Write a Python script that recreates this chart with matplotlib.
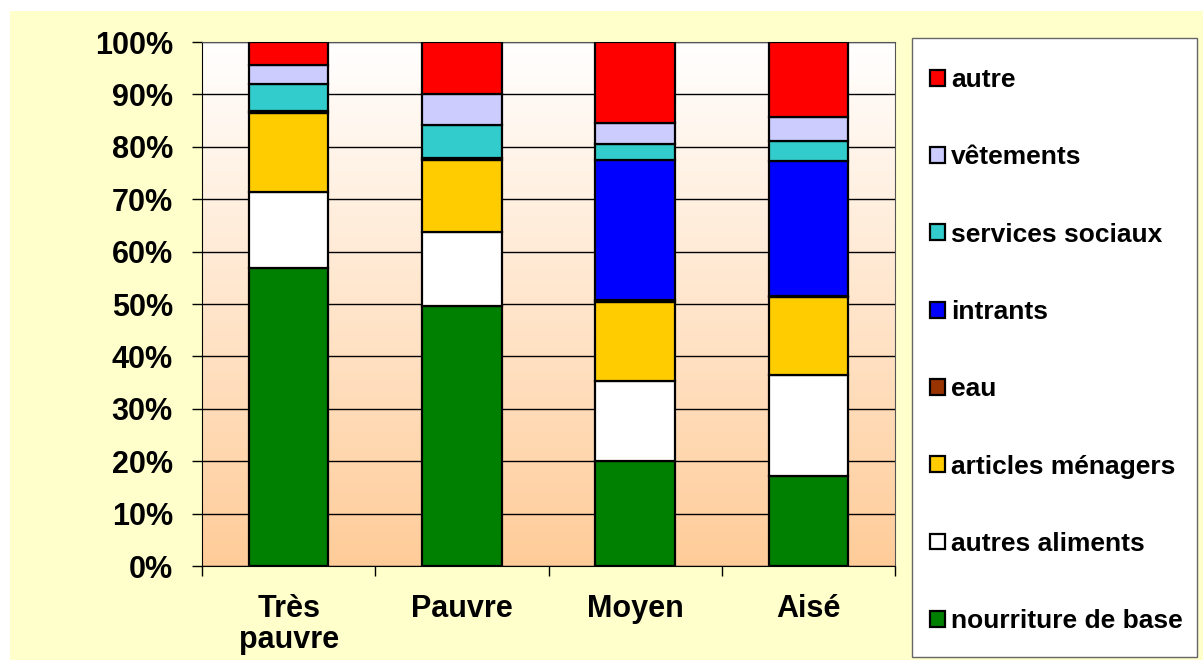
import matplotlib.pyplot as plt
import numpy as np
from matplotlib.patches import Rectangle
from matplotlib.colors import LinearSegmentedColormap

plt.rcParams['font.family'] = ['Liberation Sans', 'DejaVu Sans']
plt.rcParams['font.weight'] = 'bold'

groupes = ['Très\npauvre', 'Pauvre', 'Moyen', 'Aisé']

# parts des dépenses (%), du bas vers le haut de chaque barre
nourriture = [56.9, 49.7, 20.0, 17.2]
autres_aliments = [14.5, 14.0, 15.4, 19.2]
articles = [15.1, 13.8, 15.0, 14.9]
eau = [0.4, 0.4, 0.3, 0.3]
intrants = [0.0, 0.0, 26.8, 25.7]
services = [5.1, 6.3, 3.0, 3.8]
vetements = [3.7, 5.8, 4.0, 4.5]
autre = [4.3, 10.0, 15.5, 14.4]

series = [
    ('nourriture de base', nourriture, '#008000'),
    ('autres aliments', autres_aliments, '#FFFFFF'),
    ('articles ménagers', articles, '#FFCC00'),
    ('eau', eau, '#993300'),
    ('intrants', intrants, '#0000FF'),
    ('services sociaux', services, '#33CCCC'),
    ('vêtements', vetements, '#CCCCFF'),
    ('autre', autre, '#FF0000'),
]

W, H = 1203, 660
fig = plt.figure(figsize=(W / 100, H / 100), dpi=100)
fig.patches.append(Rectangle((10 / W, 0), 1, 1 - 11 / H, transform=fig.transFigure,
                             facecolor='#FFFFCC', edgecolor='none', zorder=-10))

ax = fig.add_axes([202 / W, 94 / H, 693 / W, 524 / H])

# fond dégradé blanc -> pêche
cmap = LinearSegmentedColormap.from_list('peche', ['#FFFFFF', '#FFCC99'])
grad = np.linspace(0, 1, 256).reshape(-1, 1)
ax.imshow(grad, cmap=cmap, aspect='auto', extent=[0, 1, 0, 1],
          transform=ax.transAxes, zorder=0)

x = np.arange(len(groupes))
bas = np.zeros(len(groupes))
handles = []
for nom, vals, couleur in series:
    b = ax.bar(x, vals, 0.46, bottom=bas, color=couleur, edgecolor='black',
               linewidth=1.6, label=nom, zorder=3)
    handles.append(b)
    bas += np.array(vals)

ax.set_xlim(-0.5, 3.5)
ax.set_ylim(0, 100)
ax.set_yticks(np.arange(0, 101, 10))
ax.set_yticklabels([f'{v}%' for v in range(0, 101, 10)])
ax.yaxis.grid(True, color='black', linewidth=1, zorder=1)
ax.set_axisbelow(True)

ax.set_xticks([-0.5, 0.5, 1.5, 2.5, 3.5])
ax.set_xticklabels([])
ax.set_xticks(x, minor=True)
ax.set_xticklabels(groupes, minor=True, fontsize=22, fontweight='bold', linespacing=1.05)
ax.tick_params(axis='x', which='major', direction='out', length=7, width=1)
ax.tick_params(axis='x', which='minor', length=0, pad=20)
ax.tick_params(axis='y', direction='out', length=7, width=1, labelsize=22, pad=14)

for s in ['top', 'right']:
    ax.spines[s].set_color('#555555')
for s in ['left', 'bottom']:
    ax.spines[s].set_color('black')

# cadre de la légende
fig.patches.append(Rectangle((912 / W, 1 - 657 / H), (1197 - 912) / W, (657 - 38) / H,
                             transform=fig.transFigure, facecolor='white',
                             edgecolor='#666666', linewidth=1, zorder=1))

leg = fig.legend(handles[::-1], [s[0] for s in series][::-1],
                 loc='upper left', bbox_to_anchor=(930 / W, 1 - 68 / H),
                 fontsize=19, frameon=False,
                 labelspacing=2.02, handlelength=0.55, handleheight=0.55,
                 handletextpad=0.25, borderpad=0, borderaxespad=0)
leg.set_zorder(2)
for t in leg.get_texts():
    t.set_fontweight('bold')

fig.savefig('out.png', dpi=100)
